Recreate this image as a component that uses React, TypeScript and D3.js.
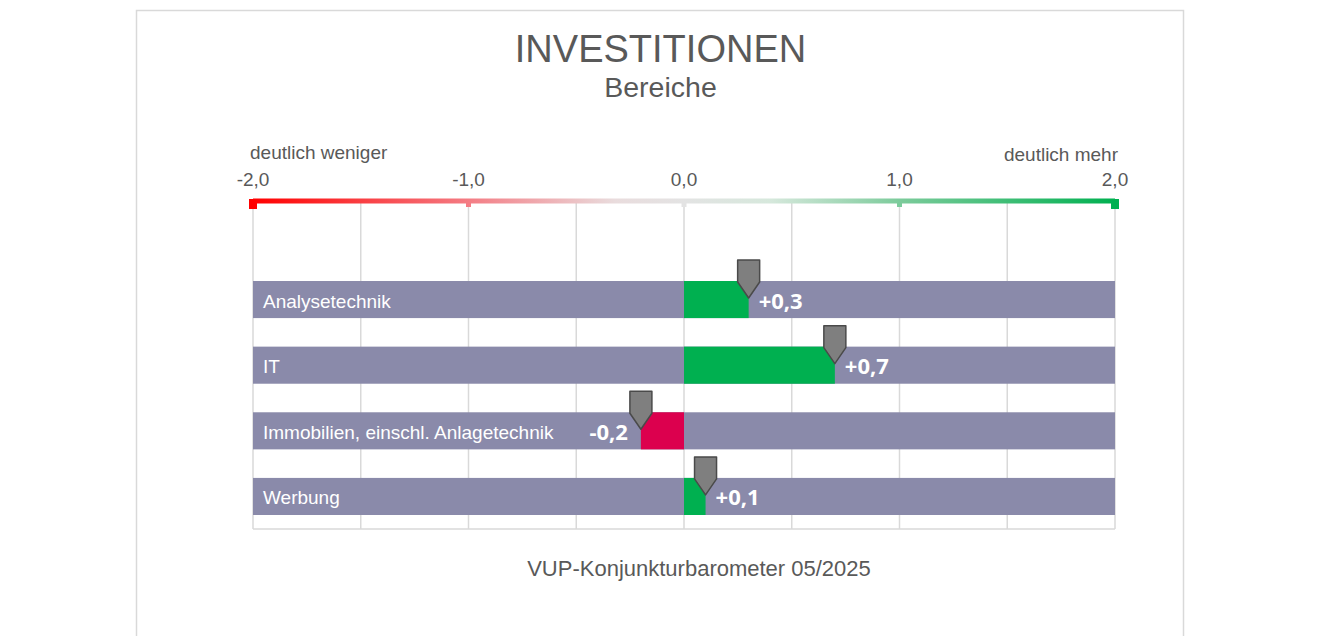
import * as d3 from 'd3';
import React, { useEffect, useRef } from 'react';

// survey answers per area, scale -2 (much less) .. +2 (much more)
const categories = ['Analysetechnik', 'IT', 'Immobilien, einschl. Anlagetechnik', 'Werbung'];
const values = [0.3, 0.7, -0.2, 0.1];
const tickValues = [-2, -1, 0, 1, 2];
const gridValues = [-2, -1.5, -1, -0.5, 0, 0.5, 1, 1.5, 2];

const title = 'INVESTITIONEN';
const subtitle = 'Bereiche';
const leftHint = 'deutlich weniger';
const rightHint = 'deutlich mehr';
const source = 'VUP-Konjunkturbarometer 05/2025';

const de = d3.formatLocale({ decimal: ',', thousands: '.', grouping: [3], currency: ['', ' €'], minus: '-' });
const tickFmt = de.format('.1f');
const valueFmt = de.format('+.1f');

export default function App() {
    const svgRef = useRef(null);

    useEffect(() => {
        if (!svgRef.current) return;
        const width = 1320;
        const height = 636;
        const textColor = '#595959';
        const gridColor = '#d9d9d9';
        const sans = '"Liberation Sans", Arial, sans-serif';

        const svg = d3.select(svgRef.current);
        svg.selectAll('*').remove();
        svg.attr('width', width).attr('height', height).attr('viewBox', [0, 0, width, height]);

        svg.append('rect').attr('width', width).attr('height', height).attr('fill', '#fff');

        // chart area frame (open at the bottom)
        svg.append('path')
            .attr('d', 'M136.5,650 V10.5 H1183.5 V650')
            .attr('fill', 'none')
            .attr('stroke', gridColor)
            .attr('stroke-width', 1.5);

        const x = d3.scaleLinear().domain([-2, 2]).range([253, 1115]);
        const y = d3.scaleBand().domain(categories).range([281, 515]).paddingInner(0.435).paddingOuter(0);

        const cx = (width + 1) / 2;
        svg.append('text')
            .attr('x', cx).attr('y', 62)
            .attr('text-anchor', 'middle')
            .attr('font-family', sans).attr('font-size', 38).attr('fill', textColor)
            .text(title);
        svg.append('text')
            .attr('x', cx).attr('y', 97)
            .attr('text-anchor', 'middle')
            .attr('font-family', sans).attr('font-size', 28.5).attr('fill', textColor)
            .text(subtitle);

        svg.append('text')
            .attr('x', 250).attr('y', 159)
            .attr('font-family', sans).attr('font-size', 19).attr('fill', textColor)
            .text(leftHint);
        svg.append('text')
            .attr('x', 1118).attr('y', 161)
            .attr('text-anchor', 'end')
            .attr('font-family', sans).attr('font-size', 19).attr('fill', textColor)
            .text(rightHint);

        // tick labels above the colour strip
        svg.append('g')
            .selectAll('text')
            .data(tickValues)
            .join('text')
            .attr('x', d => x(d))
            .attr('y', 186)
            .attr('text-anchor', 'middle')
            .attr('font-family', sans).attr('font-size', 19).attr('fill', textColor)
            .text(d => tickFmt(d));

        // vertical grid + bottom line
        const gridBottom = 529;
        svg.append('g')
            .selectAll('line')
            .data(gridValues)
            .join('line')
            .attr('x1', d => x(d)).attr('x2', d => x(d))
            .attr('y1', 203).attr('y2', gridBottom)
            .attr('stroke', gridColor).attr('stroke-width', 1.5);
        svg.append('line')
            .attr('x1', x(-2)).attr('x2', x(2))
            .attr('y1', gridBottom).attr('y2', gridBottom)
            .attr('stroke', gridColor).attr('stroke-width', 1.5);

        // red -> grey -> green strip
        const grad = svg.append('defs').append('linearGradient')
            .attr('id', 'scaleGrad')
            .attr('gradientUnits', 'userSpaceOnUse')
            .attr('x1', x(-2)).attr('x2', x(2)).attr('y1', 0).attr('y2', 0);
        grad.append('stop').attr('offset', 0).attr('stop-color', '#ff0000');
        grad.append('stop').attr('offset', 0.25).attr('stop-color', '#f47c84');
        grad.append('stop').attr('offset', 0.42).attr('stop-color', '#e9dcdd');
        grad.append('stop').attr('offset', 0.5).attr('stop-color', '#e3e3e3');
        grad.append('stop').attr('offset', 0.6).attr('stop-color', '#d6e8dc');
        grad.append('stop').attr('offset', 0.75).attr('stop-color', '#7ccb9b');
        grad.append('stop').attr('offset', 1).attr('stop-color', '#00b050');

        svg.append('rect')
            .attr('x', x(-2)).attr('y', 198.5)
            .attr('width', x(2) - x(-2)).attr('height', 5)
            .attr('fill', 'url(#scaleGrad)');
        svg.append('g')
            .selectAll('rect')
            .data(tickValues)
            .join('rect')
            .attr('x', d => x(d) - (Math.abs(d) === 2 ? 4 : 2.5))
            .attr('y', 199)
            .attr('width', d => (Math.abs(d) === 2 ? 8 : 5))
            .attr('height', d => (Math.abs(d) === 2 ? 10 : 8))
            .attr('fill', 'url(#scaleGrad)');

        const bw = y.bandwidth();

        // background bars
        svg.append('g')
            .selectAll('rect')
            .data(categories)
            .join('rect')
            .attr('x', x(-2))
            .attr('y', d => y(d))
            .attr('width', x(2) - x(-2))
            .attr('height', bw)
            .attr('fill', '#8a8aaa');

        const rows = categories.map((c, i) => ({ c, v: values[i] }));

        // value bars from zero
        svg.append('g')
            .selectAll('rect')
            .data(rows)
            .join('rect')
            .attr('x', d => Math.min(x(0), x(d.v)))
            .attr('y', d => y(d.c))
            .attr('width', d => Math.abs(x(d.v) - x(0)))
            .attr('height', bw)
            .attr('fill', d => (d.v >= 0 ? '#00b050' : '#dc004e'));

        // category names
        svg.append('g')
            .selectAll('text')
            .data(rows)
            .join('text')
            .attr('x', 263)
            .attr('y', d => y(d.c) + bw / 2 + 8)
            .attr('font-family', sans).attr('font-size', 19).attr('fill', '#fff')
            .text(d => d.c);

        // pointer markers
        const hw = 11;
        svg.append('g')
            .selectAll('path')
            .data(rows)
            .join('path')
            .attr('d', d => {
                const px = x(d.v);
                const top = y(d.c) - 21;
                const side = y(d.c) + 1;
                const tip = y(d.c) + 17;
                return `M${px - hw},${top} H${px + hw} V${side} L${px},${tip} L${px - hw},${side} Z`;
            })
            .attr('fill', '#7f7f7f')
            .attr('stroke', '#4a4a4a')
            .attr('stroke-width', 1.5)
            .attr('stroke-linejoin', 'round');

        // value labels
        svg.append('g')
            .selectAll('text')
            .data(rows)
            .join('text')
            .attr('x', d => (d.v >= 0 ? x(d.v) + 10 : x(d.v) - 13))
            .attr('y', d => y(d.c) + bw / 2 + 9)
            .attr('text-anchor', d => (d.v >= 0 ? 'start' : 'end'))
            .attr('font-family', '"Open Sans", sans-serif')
            .attr('font-weight', 700)
            .attr('font-size', 22)
            .attr('fill', '#fff')
            .text(d => valueFmt(d.v));

        svg.append('text')
            .attr('x', 699).attr('y', 576)
            .attr('text-anchor', 'middle')
            .attr('font-family', sans).attr('font-size', 22).attr('fill', textColor)
            .text(source);
    }, []);

    return (
        <div style={{ position: 'fixed', top: 0, left: 0, width: 1320, height: 636, overflow: 'hidden' }}>
            <svg ref={svgRef} style={{ display: 'block' }}></svg>
        </div>
    );
}
